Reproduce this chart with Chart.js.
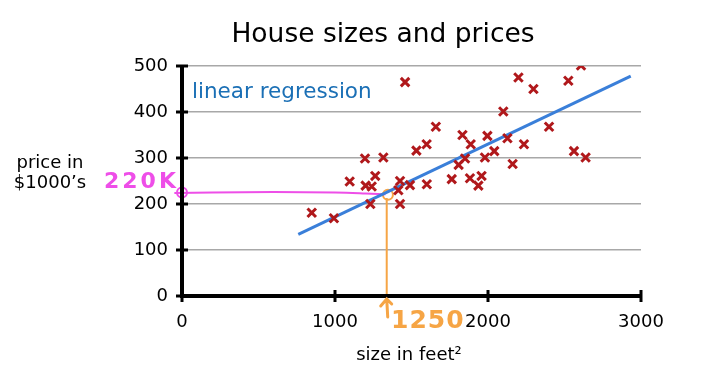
<!DOCTYPE html>
<html>
<head>
<meta charset="utf-8">
<script src="https://cdn.jsdelivr.net/npm/chart.js@4"></script>
<style>
  html, body { margin: 0; padding: 0; background: #fff; }
  #wrap { width: 706px; height: 375px; position: relative; }
</style>
</head>
<body>
<div id="wrap"><canvas id="chart-house" width="706" height="375"></canvas></div>
<script>
// --- Data ---
const sizes = [848, 993, 1096, 1196, 1316, 1263, 1200, 1240, 1231, 1458,
  1425, 1414, 1425, 1490, 1600, 1532, 1599, 1659, 1763, 1833,
  1808, 1887, 1850, 1882, 1958, 1937, 1996, 1980, 2041, 2100,
  2127, 2161, 2235, 2199, 2297, 2399, 2525, 2608, 2562, 2638];
const prices = [181, 169, 249, 299, 301, 261, 240, 238, 200, 465,
  250, 230, 200, 241, 243, 316, 330, 368, 254, 350,
  285, 330, 299, 256, 261, 240, 348, 301, 315, 401,
  343, 287, 330, 475, 450, 368, 468, 501, 315, 301];

// regression line end points
const fitX = [760, 2933];
const fitY = [134, 478];

// hand-drawn annotations
const guideX = [-50, 200, 600, 1000, 1200, 1330];
const guideY = [224, 225, 226, 225, 223, 221];
const queryX = 1338;
const queryTop = 213;
const queryPrice = 220;

const xTicks = [0, 1000, 2000, 3000];
const yTicks = [0, 100, 200, 300, 400, 500];

const red = '#b0181b';
const blue = '#3a7fd9';
const magenta = '#ee4ee8';
const orange = '#f6a545';

const toPts = (xs, ys) => xs.map((x, i) => ({ x, y: ys[i] }));

// --- Custom drawing: axes, tick marks, texts, annotations ---
const decorations = {
  id: 'decorations',
  afterDatasetsDraw(chart) {
    const { ctx, chartArea: a, scales: { x, y } } = chart;
    ctx.save();

    // axes
    ctx.strokeStyle = '#000';
    ctx.lineWidth = 4;
    ctx.beginPath();
    ctx.moveTo(a.left, y.getPixelForValue(500) - 1);
    ctx.lineTo(a.left, a.bottom);
    ctx.lineTo(x.getPixelForValue(3000) + 1, a.bottom);
    ctx.stroke();
    ctx.lineWidth = 3;
    yTicks.forEach(v => {
      const py = y.getPixelForValue(v);
      ctx.beginPath();
      ctx.moveTo(a.left - 6, py);
      ctx.lineTo(a.left + 6, py);
      ctx.stroke();
    });
    xTicks.forEach(v => {
      const px = x.getPixelForValue(v);
      ctx.beginPath();
      ctx.moveTo(px, a.bottom - 6);
      ctx.lineTo(px, a.bottom + 6);
      ctx.stroke();
    });

    // texts
    ctx.fillStyle = '#000';
    ctx.textAlign = 'center';
    ctx.textBaseline = 'middle';
    ctx.font = '26.5px "DejaVu Sans"';
    ctx.fillText('House sizes and prices', 383, 35);
    ctx.font = '18px "DejaVu Sans"';
    ctx.fillText('price in', 50, 163);
    ctx.fillText('$1000\u2019s', 50, 183);
    ctx.fillText('size in feet\u00b2', 409, 355);

    ctx.fillStyle = '#1a6fb5';
    ctx.textAlign = 'left';
    ctx.font = '21.5px "DejaVu Sans"';
    ctx.fillText('linear regression', 192, 92);

    // orange arrow and label
    const qx = x.getPixelForValue(queryX);
    ctx.strokeStyle = orange;
    ctx.lineWidth = 3;
    ctx.lineCap = 'round';
    ctx.beginPath();
    ctx.moveTo(qx, a.bottom + 3);
    ctx.lineTo(qx + 1, a.bottom + 21);
    ctx.moveTo(qx - 6, a.bottom + 10);
    ctx.lineTo(qx, a.bottom + 3);
    ctx.lineTo(qx + 5, a.bottom + 8);
    ctx.stroke();
    ctx.fillStyle = orange;
    ctx.font = 'bold 25px "DejaVu Sans"';
    ctx.textBaseline = 'alphabetic';
    ctx.letterSpacing = '1px';
    ctx.fillText('1250', 391, 328);

    ctx.fillStyle = magenta;
    ctx.font = 'bold 22px "DejaVu Sans"';
    ctx.letterSpacing = '3px';
    ctx.fillText('220K', 104, 188);

    ctx.restore();
  }
};

new Chart(document.getElementById('chart-house'), {
  type: 'scatter',
  data: {
    datasets: [
      {
        label: 'guide',
        type: 'line',
        data: toPts(guideX, guideY),
        borderColor: magenta,
        borderWidth: 2,
        pointRadius: 0,
        tension: 0.4,
        clip: false,
        order: 3,
      },
      {
        label: 'guide-circle',
        data: [{ x: 0, y: guideY[1] }],
        pointStyle: 'circle',
        pointRadius: 5,
        pointBorderColor: magenta,
        pointBackgroundColor: 'transparent',
        pointBorderWidth: 2,
        clip: false,
        order: 3,
      },
      {
        label: 'query',
        type: 'line',
        data: [{ x: queryX, y: 0 }, { x: queryX, y: queryTop }],
        borderColor: orange,
        borderWidth: 2,
        pointRadius: 0,
        order: 3,
      },
      {
        label: 'query-circle',
        data: [{ x: queryX + 8, y: queryPrice }],
        pointStyle: 'circle',
        pointRadius: 5,
        pointBorderColor: orange,
        pointBackgroundColor: 'transparent',
        pointBorderWidth: 2,
        order: 3,
      },
      {
        label: 'fit',
        type: 'line',
        data: toPts(fitX, fitY),
        borderColor: blue,
        borderWidth: 3,
        pointRadius: 0,
        order: 2,
      },
      {
        label: 'houses',
        data: toPts(sizes, prices),
        pointStyle: 'crossRot',
        pointRadius: 6,
        pointBorderColor: red,
        pointBorderWidth: 3,
        order: 1,
      },
    ],
  },
  options: {
    responsive: false,
    animation: false,
    layout: { padding: { left: 0, right: 65, top: 66, bottom: 0 } },
    plugins: {
      legend: { display: false },
      tooltip: { enabled: false },
    },
    scales: {
      x: {
        type: 'linear',
        min: 0,
        max: 3000,
        afterBuildTicks: s => { s.ticks = xTicks.map(v => ({ value: v })); },
        afterFit: s => { s.height = 79; },
        ticks: {
          color: '#000',
          font: { family: 'DejaVu Sans', size: 18 },
          padding: 8,
          maxRotation: 0,
          callback: v => String(v),
        },
        grid: { display: false },
        border: { display: false },
      },
      y: {
        min: 0,
        max: 500,
        afterBuildTicks: s => { s.ticks = yTicks.map(v => ({ value: v })); },
        afterFit: s => { s.width = 182; },
        ticks: {
          color: '#000',
          font: { family: 'DejaVu Sans', size: 18 },
          padding: 14,
          callback: v => String(v),
        },
        grid: { color: '#a8a8a8', lineWidth: 1.5, drawTicks: false },
        border: { display: false },
      },
    },
  },
  plugins: [decorations],
});
</script>
</body>
</html>
